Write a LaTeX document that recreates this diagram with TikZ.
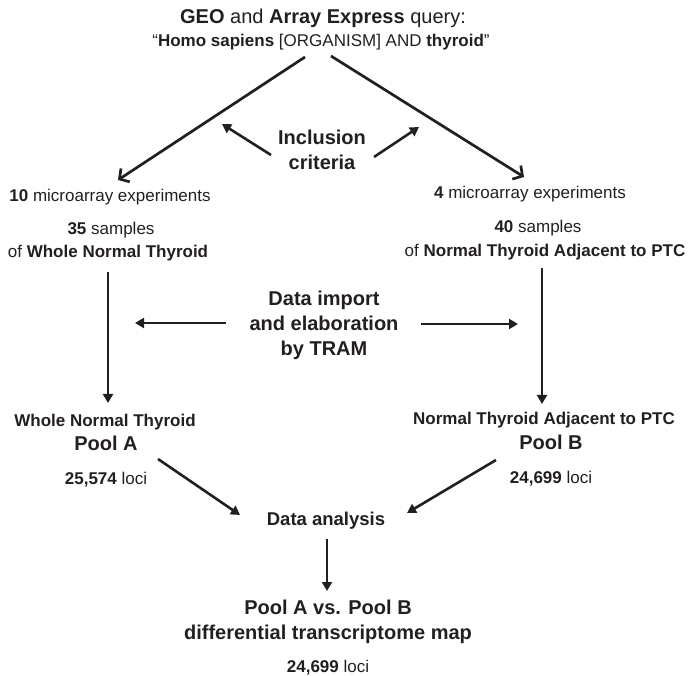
\documentclass[tikz,border=0pt]{standalone}
\usepackage{fontspec}
\setmainfont{Liberation Sans}
\usetikzlibrary{arrows.meta,calc}
\definecolor{ink}{RGB}{35,31,32}
\tikzset{
  lbl/.style={inner sep=0pt, text=ink, font=\fontsize{17}{22}\selectfont},
  bigtext/.style={inner sep=0pt, text=ink, align=center, font=\fontsize{20}{25}\selectfont\bfseries},
  fork/.style={draw=ink, line width=2.7pt, -{Straight Barb[length=7pt,width=16pt]}},
  flow/.style={draw=ink, line width=2.6pt, -{Triangle[length=9pt,width=10pt]}},
}
\begin{document}
\begin{tikzpicture}[x=1pt,y=-1pt]
  \useasboundingbox (0,0) rectangle (689,676);

  \node[lbl, font=\fontsize{20}{25}\selectfont] (query-top) at (323,18) {\textbf{GEO} and \textbf{Array Express} query:};
  \node[lbl] (query-bottom) at (321,42) {“\textbf{Homo sapiens} [ORGANISM] AND \textbf{thyroid}”};
  \node[bigtext] (inclusion) at (322,150) {Inclusion\\criteria};

  \node[lbl] (exp-a) at (110,197) {\textbf{10} microarray experiments};
  \node[lbl] (samples-a) at (111,230) {\textbf{35} samples};
  \node[lbl] (tissue-a) at (108,253) {of \textbf{Whole Normal Thyroid}};
  \node[lbl] (exp-b) at (530,194) {\textbf{4} microarray experiments};
  \node[lbl] (samples-b) at (538,228) {\textbf{40} samples};
  \node[lbl] (tissue-b) at (545,252) {of \textbf{Normal Thyroid Adjacent to PTC}};

  \node[bigtext] (tram) at (324,325) {Data import\\and elaboration\\by TRAM};

  \node[lbl] (name-a) at (105,422) {\textbf{Whole Normal Thyroid}};
  \node[bigtext] (pool-a) at (106,443) {Pool A};
  \node[lbl] (loci-a) at (106,480) {\textbf{25,574} loci};
  \node[lbl] (name-b) at (544,420) {\textbf{Normal Thyroid Adjacent to PTC}};
  \node[bigtext] (pool-b) at (551,442) {Pool B};
  \node[lbl] (loci-b) at (551,479) {\textbf{24,699} loci};

  \node[bigtext, font=\fontsize{18.5}{22}\selectfont\bfseries] (analysis) at (326,521) {Data analysis};
  \node[bigtext] (map) at (328,622) {Pool A vs. Pool B\\differential transcriptome map};
  \node[lbl] (loci-map) at (328,668) {\textbf{24,699} loci};

  \draw[fork] ($(query-bottom)+(-16,15)$) -- ($(exp-a)+(8,-17)$);
  \draw[fork] ($(query-bottom)+(10,14)$) -- ($(exp-b)+(-6,-17)$);
  \draw[flow] ($(inclusion)+(-51,5)$) -- ($(inclusion)+(-100,-26)$);
  \draw[flow] ($(inclusion)+(52,7)$) -- ($(inclusion)+(97,-23)$);

  \draw[flow] ($(tissue-a)+(0,19)$) -- ($(name-a)+(3,-19)$);
  \draw[flow] ($(tissue-b)+(-3,16)$) -- ($(name-b)+(-2,-16)$);
  \draw[flow] ($(tram)+(-98,-2)$) -- ($(tram)+(-189,-2)$);
  \draw[flow] ($(tram)+(97,-1)$) -- ($(tram)+(194,-1)$);

  \draw[flow] ($(loci-a)+(52,-21)$) -- ($(analysis)+(-86,-6)$);
  \draw[flow] ($(loci-b)+(-55,-19)$) -- ($(analysis)+(81,-8)$);
  \draw[flow] ($(analysis)+(1,18)$) -- ($(map)+(-1,-31)$);
\end{tikzpicture}
\end{document}
